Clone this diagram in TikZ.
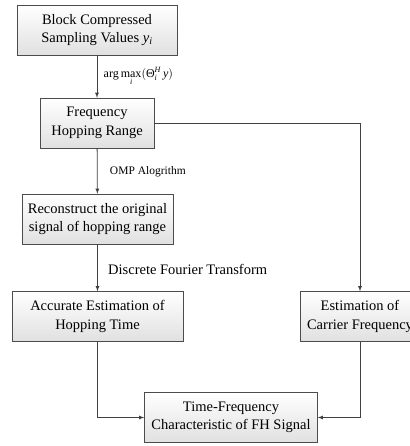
\documentclass[tikz,border=0pt]{standalone}
\usepackage{amsmath}
\usepackage{fontspec}
\setmainfont{Liberation Serif}
\usetikzlibrary{positioning,arrows}

\tikzset{
  blockbox/.style={draw=black!70, top color=white, bottom color=black!12,
    align=center, inner sep=2pt, minimum height=50pt,
    font=\fontsize{14.5}{18.5}\selectfont},
  linkarrow/.style={->, >=latex, draw=black!75, thick},
  linklabel/.style={font=\fontsize{14.5}{17}\selectfont, anchor=west}
}

\begin{document}
\begin{tikzpicture}[x=1pt, y=-1pt]
      \useasboundingbox (0,0) rectangle (409,446);

      % Draw the blocks
      \node[blockbox, minimum width=160pt] (compressed) at (97,30)
        {Block Compressed\\Sampling Values \textit{y}\textsubscript{\textit{i}}};
      \node[blockbox, minimum width=114pt] (range) at (97,123)
        {Frequency\\Hopping Range};
      \node[blockbox, minimum width=151pt] (reconstruct) at (97.5,219)
        {Reconstruct the original\\signal of hopping range};
      \node[blockbox, minimum width=171pt] (hoptime) at (97.5,316.5)
        {Accurate Estimation of\\Hopping Time};
      \node[blockbox, minimum width=120pt] (carrier) at (360,316.5)
        {Estimation of\\Carrier Frequency};
      \node[blockbox, minimum width=173pt] (result) at (231,417.5)
        {Time-Frequency\\Characteristic of FH Signal};

      % Draw the arrows down the left column
      \draw[linkarrow] (compressed) -- (range)
        node[midway, linklabel, xshift=3pt, font=\fontsize{12}{14}\selectfont]
        (argmax) {$\text{arg}\mathop{\text{max}}\limits_{\textit{i}}%
          (\text{Θ}_{\textit{i}}^{\textit{H}}\,\textit{y})$};
      \draw[linkarrow] (range) -- (reconstruct)
        node[midway, linklabel, xshift=9pt, yshift=-1pt, font=\fontsize{11.5}{14}\selectfont]
        (omp) {OMP Alogrithm};
      \draw[linkarrow] (reconstruct) -- (hoptime)
        node[midway, linklabel, xshift=7pt, yshift=-2pt] (dft) {Discrete Fourier Transform};

      % Draw the branch to the carrier estimate
      \draw[linkarrow] (range.east) -| (carrier.north);

      % Join both estimates into the result
      \draw[linkarrow] (hoptime.south) |- (result.west);
      \draw[linkarrow] (carrier.south) |- (result.east);
    \end{tikzpicture}
\end{document}
